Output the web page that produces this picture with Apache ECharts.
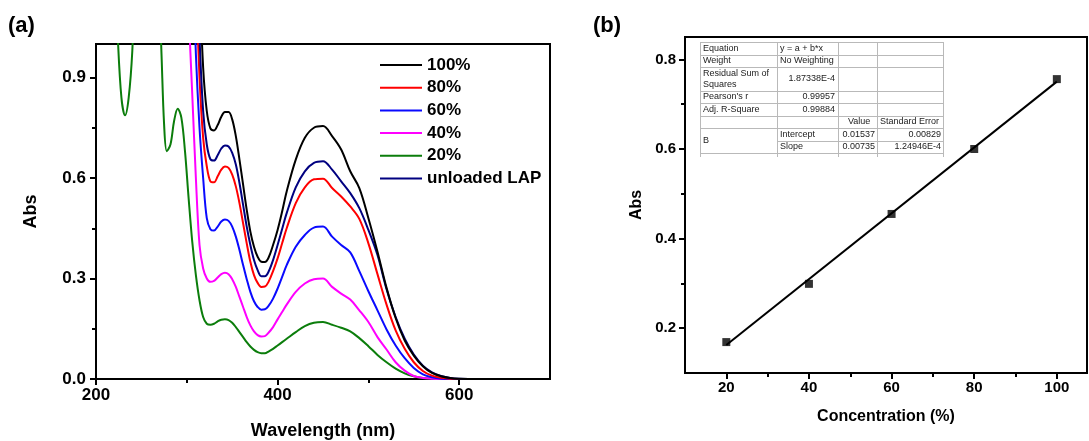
<!DOCTYPE html>
<html>
<head>
<meta charset="utf-8">
<script src="https://cdn.jsdelivr.net/npm/echarts@6/dist/echarts.min.js"></script>
<style>
  html, body { margin: 0; padding: 0; background: #fff; }
  #chart { width: 1089px; height: 441px; }
</style>
</head>
<body>
<div id="chart"></div>
<script>
// ---- (a) UV-Vis spectra: wavelength (nm) and absorbance per loading ----
const wavelength = [220, 224, 228, 232, 236, 240, 244, 268, 272, 275, 278, 282, 286, 290, 294, 298,
  302, 306, 310, 314, 318, 322, 326, 330, 334, 338, 342, 346, 350, 354, 358, 362, 366, 370, 374, 378,
  382, 386, 390, 395, 400, 405, 410, 420, 430, 440, 450, 460, 470, 480, 490, 500, 510, 520, 530, 540,
  550, 560, 570, 580, 590, 600, 620, 650, 700];

const abs100 = [null, null, null, null, null, null, null, null, null, null, null, null, null, null, null, null,
  null, null, null, 1.2, 0.93, 0.8, 0.748, 0.742, 0.758, 0.783, 0.797, 0.797, 0.775, 0.725, 0.655, 0.58,
  0.505, 0.44, 0.395, 0.365, 0.35, 0.349, 0.362, 0.4, 0.445, 0.5, 0.56, 0.655, 0.72, 0.75, 0.755, 0.725,
  0.685, 0.62, 0.57, 0.48, 0.38, 0.272, 0.182, 0.115, 0.07, 0.038, 0.018, 0.008, 0.003, 0.001, 0, 0, 0];

const abs80 = [null, null, null, null, null, null, null, null, null, null, null, null, null, null, null, null,
  null, null, 1.2, 0.9, 0.72, 0.635, 0.59, 0.587, 0.605, 0.625, 0.634, 0.63, 0.61, 0.575, 0.525, 0.465,
  0.405, 0.35, 0.31, 0.287, 0.275, 0.276, 0.29, 0.322, 0.36, 0.405, 0.45, 0.525, 0.572, 0.596, 0.598, 0.57,
  0.545, 0.515, 0.478, 0.405, 0.313, 0.222, 0.145, 0.09, 0.05, 0.024, 0.01, 0.004, 0.001, 0, 0, 0, 0];

const abs60 = [null, null, null, null, null, null, null, null, null, null, null, null, null, null, null, null,
  null, 1.3, 0.97, 0.75, 0.6, 0.48, 0.447, 0.443, 0.455, 0.47, 0.476, 0.472, 0.455, 0.425, 0.385, 0.34,
  0.298, 0.26, 0.232, 0.215, 0.207, 0.208, 0.218, 0.24, 0.27, 0.305, 0.34, 0.395, 0.43, 0.452, 0.455, 0.425,
  0.4, 0.378, 0.322, 0.262, 0.205, 0.148, 0.1, 0.062, 0.033, 0.014, 0.005, 0.001, 0, 0, 0, 0, 0];

const abs40 = [null, null, null, null, null, null, null, null, null, null, null, null, null, null, null, 1.4,
  1.1, 0.85, 0.6, 0.4, 0.33, 0.3, 0.29, 0.293, 0.303, 0.313, 0.317, 0.313, 0.298, 0.275, 0.245, 0.215,
  0.185, 0.16, 0.142, 0.131, 0.127, 0.128, 0.138, 0.155, 0.178, 0.2, 0.222, 0.26, 0.285, 0.298, 0.3, 0.275,
  0.255, 0.237, 0.205, 0.17, 0.125, 0.088, 0.05, 0.025, 0.009, 0.003, 0.001, 0, 0, 0, 0, 0, 0];

const abs20 = [1.3, 1.02, 0.84, 0.787, 0.84, 0.98, 1.25, 1.25, 0.98, 0.76, 0.68, 0.7, 0.77, 0.807, 0.78, 0.68,
  0.54, 0.41, 0.31, 0.235, 0.185, 0.165, 0.162, 0.165, 0.172, 0.177, 0.178, 0.176, 0.168, 0.155, 0.14, 0.125,
  0.11, 0.097, 0.087, 0.08, 0.077, 0.077, 0.082, 0.09, 0.1, 0.11, 0.12, 0.14, 0.158, 0.168, 0.17, 0.162,
  0.153, 0.142, 0.122, 0.098, 0.072, 0.05, 0.031, 0.017, 0.008, 0.003, 0.001, 0, 0, 0, 0, 0, 0];

const absUnloaded = [null, null, null, null, null, null, null, null, null, null, null, null, null, null, null, null,
  null, null, 1.35, 1.02, 0.8, 0.7, 0.656, 0.652, 0.668, 0.688, 0.697, 0.694, 0.675, 0.64, 0.585, 0.52,
  0.455, 0.4, 0.355, 0.325, 0.307, 0.307, 0.32, 0.355, 0.4, 0.448, 0.495, 0.572, 0.62, 0.645, 0.65, 0.625,
  0.59, 0.555, 0.51, 0.445, 0.37, 0.268, 0.185, 0.12, 0.073, 0.04, 0.02, 0.009, 0.003, 0.001, 0, 0, 0];

const spectraNames = ['100%', '80%', '60%', '40%', '20%', 'unloaded LAP'];

const wlMajorTicks = [200, 400, 600];
const wlMinorTicks = [300, 500];
const absMajorTicks = [0, 0.3, 0.6, 0.9];
const absMinorTicks = [0.15, 0.45, 0.75];

// ---- (b) calibration: absorbance at 445 nm vs concentration ----
const concentration = [20, 40, 60, 80, 100];
const absorbance = [0.169, 0.299, 0.455, 0.6, 0.756];
const fitIntercept = 0.01537;
const fitSlope = 0.00735;
const fitRange = [20, 100];

const concMajorTicks = [20, 40, 60, 80, 100];
const concMinorTicks = [30, 50, 70, 90];
const calMajorTicks = [0.2, 0.4, 0.6, 0.8];
const calMinorTicks = [0.3, 0.5, 0.7];

// linear fit report
const fitLabels = ['Equation', 'Weight', 'Residual Sum of\nSquares', "Pearson's r", 'Adj. R-Square'];
const fitValues = ['y = a + b*x', 'No Weighting', '1.87338E-4', '0.99957', '0.99884'];
const paramHeader = ['Value', 'Standard Error'];
const paramGroup = 'B';
const paramNames = ['Intercept', 'Slope'];
const paramValues = ['0.01537', '0.00735'];
const paramErrors = ['0.00829', '1.24946E-4'];

// ---------------------------------------------------------------
const FONT = "'Liberation Sans', Arial, Helvetica, sans-serif";
const chart = echarts.init(document.getElementById('chart'), null, { renderer: 'canvas' });

function pairs(values) {
  return wavelength.map((w, i) => [w, values[i]]).filter(p => p[1] !== null);
}

function mainAxis(gridIndex, position, min, max, ticks, fontSize, margin, fmt, name, nameGap, nameSize) {
  return {
    type: 'value', gridIndex, position, min, max,
    axisLine: { show: true, onZero: false, lineStyle: { color: '#000', width: 2 } },
    axisTick: { show: true, customValues: ticks, length: 6, lineStyle: { color: '#000', width: 2 } },
    axisLabel: {
      customValues: ticks, formatter: fmt, margin,
      color: '#000', fontSize, fontWeight: 'bold', fontFamily: FONT
    },
    splitLine: { show: false },
    name, nameLocation: 'middle', nameGap,
    nameTextStyle: { color: '#000', fontSize: nameSize, fontWeight: 'bold', fontFamily: FONT }
  };
}
function minorAxis(gridIndex, position, min, max, ticks) {
  return {
    type: 'value', gridIndex, position, min, max,
    axisLine: { show: false, onZero: false },
    axisTick: { show: true, customValues: ticks, length: 4, lineStyle: { color: '#000', width: 2 } },
    axisLabel: { show: false },
    splitLine: { show: false }
  };
}

const spectra = [
  { name: '20%', data: abs20, color: '#0b7d0b' },
  { name: '40%', data: abs40, color: '#ff00ff' },
  { name: '60%', data: abs60, color: '#0a0aff' },
  { name: '80%', data: abs80, color: '#ff0000' },
  { name: 'unloaded LAP', data: absUnloaded, color: '#000080' },
  { name: '100%', data: abs100, color: '#000000' }
];

const spectraSeries = spectra.map(s => ({
  name: s.name, type: 'line', xAxisIndex: 0, yAxisIndex: 0,
  data: pairs(s.data), smooth: 0.35, symbol: 'none', showSymbol: false,
  clip: true, color: s.color,
  lineStyle: { color: s.color, width: 2 },
  emphasis: { disabled: true }
}));

// table layout
const colX = [700, 777, 838, 877, 943];
const rowY = [42, 54.5, 67, 91, 103, 115.5, 128, 140.5, 153];
const tableBottom = 157;
const gridColor = '#b9b9b9';
const tableGraphics = [];
function hLine(x1, x2, y) {
  tableGraphics.push({ type: 'line', shape: { x1, y1: Math.round(y) + 0.5, x2, y2: Math.round(y) + 0.5 },
    style: { stroke: gridColor, lineWidth: 1 }, silent: true });
}
function vLine(x, y1, y2) {
  tableGraphics.push({ type: 'line', shape: { x1: Math.round(x) + 0.5, y1, x2: Math.round(x) + 0.5, y2 },
    style: { stroke: gridColor, lineWidth: 1 }, silent: true });
}
function cellText(text, x, y, align) {
  tableGraphics.push({ type: 'text', x, y, silent: true,
    style: { text, fill: '#222', fontSize: 9, fontFamily: FONT, lineHeight: 11.5,
      align, verticalAlign: 'middle' } });
}
tableGraphics.push({ type: 'rect', shape: { x: colX[0], y: rowY[0], width: colX[4] - colX[0], height: tableBottom - rowY[0] },
  style: { fill: '#fff', stroke: null }, silent: true });
rowY.forEach((y, i) => {
  if (i === 7) hLine(colX[1], colX[4], y); else hLine(colX[0], colX[4], y);
});
colX.forEach(x => vLine(x, rowY[0], tableBottom));
const mid = i => (rowY[i] + rowY[i + 1]) / 2;
fitLabels.forEach((t, i) => cellText(t, colX[0] + 3, mid(i), 'left'));
fitValues.forEach((t, i) => cellText(t, i < 2 ? colX[1] + 3 : colX[2] - 3, mid(i), i < 2 ? 'left' : 'right'));
cellText(paramHeader[0], colX[2] + 10, mid(5), 'left');
cellText(paramHeader[1], colX[3] + 3, mid(5), 'left');
cellText(paramGroup, colX[0] + 3, rowY[7], 'left');
paramNames.forEach((t, i) => cellText(t, colX[1] + 3, mid(6 + i), 'left'));
paramValues.forEach((t, i) => cellText(t, colX[3] - 2, mid(6 + i), 'right'));
paramErrors.forEach((t, i) => cellText(t, colX[4] - 2, mid(6 + i), 'right'));

const option = {
  animation: false,
  backgroundColor: '#fff',
  textStyle: { fontFamily: FONT },
  title: [
    { text: '(a)', left: 3, top: 10, padding: 5, textStyle: { fontSize: 22, fontWeight: 'bold', color: '#000', fontFamily: FONT } },
    { text: '(b)', left: 588, top: 10, padding: 5, textStyle: { fontSize: 22, fontWeight: 'bold', color: '#000', fontFamily: FONT } }
  ],
  legend: {
    data: spectraNames, orient: 'vertical', left: 375, top: 51.5, padding: 5,
    icon: 'rect', itemWidth: 42, itemHeight: 2, itemGap: 5.7, selectedMode: false,
    textStyle: { fontSize: 17, lineHeight: 17, fontWeight: 'bold', color: '#000', fontFamily: FONT }
  },
  grid: [
    { left: 96, top: 44, width: 454, height: 335, show: true, borderColor: '#000', borderWidth: 2, outerBoundsMode: 'none' },
    { left: 685, top: 37, width: 402, height: 336, show: true, borderColor: '#000', borderWidth: 2, outerBoundsMode: 'none' }
  ],
  xAxis: [
    mainAxis(0, 'bottom', 200, 700, wlMajorTicks, 17, 8, v => String(v), 'Wavelength (nm)', 43, 18),
    minorAxis(0, 'bottom', 200, 700, wlMinorTicks),
    mainAxis(1, 'bottom', 10, 107.3, concMajorTicks, 15, 7, v => String(v), 'Concentration (%)', 36, 16),
    minorAxis(1, 'bottom', 10, 107.3, concMinorTicks)
  ],
  yAxis: [
    mainAxis(0, 'left', 0, 1, absMajorTicks, 17, 10, v => v.toFixed(1), 'Abs', 56, 18),
    minorAxis(0, 'left', 0, 1, absMinorTicks),
    mainAxis(1, 'left', 0.1, 0.85, calMajorTicks, 15, 9, v => v.toFixed(1), 'Abs', 40, 16),
    minorAxis(1, 'left', 0.1, 0.85, calMinorTicks)
  ],
  graphic: { elements: tableGraphics },
  series: spectraSeries.concat([
    {
      name: 'Linear fit', type: 'line', xAxisIndex: 2, yAxisIndex: 2,
      data: fitRange.map(x => [x, fitIntercept + fitSlope * x]),
      symbol: 'none', showSymbol: false, color: '#000',
      lineStyle: { color: '#000', width: 2 }, z: 3, emphasis: { disabled: true }
    },
    {
      name: 'Abs', type: 'scatter', xAxisIndex: 2, yAxisIndex: 2,
      data: concentration.map((c, i) => [c, absorbance[i]]),
      symbol: 'rect', symbolSize: 8, itemStyle: { color: '#000' }, z: 4,
      emphasis: { disabled: true }
    }
  ])
};
chart.setOption(option);
</script>
</body>
</html>
